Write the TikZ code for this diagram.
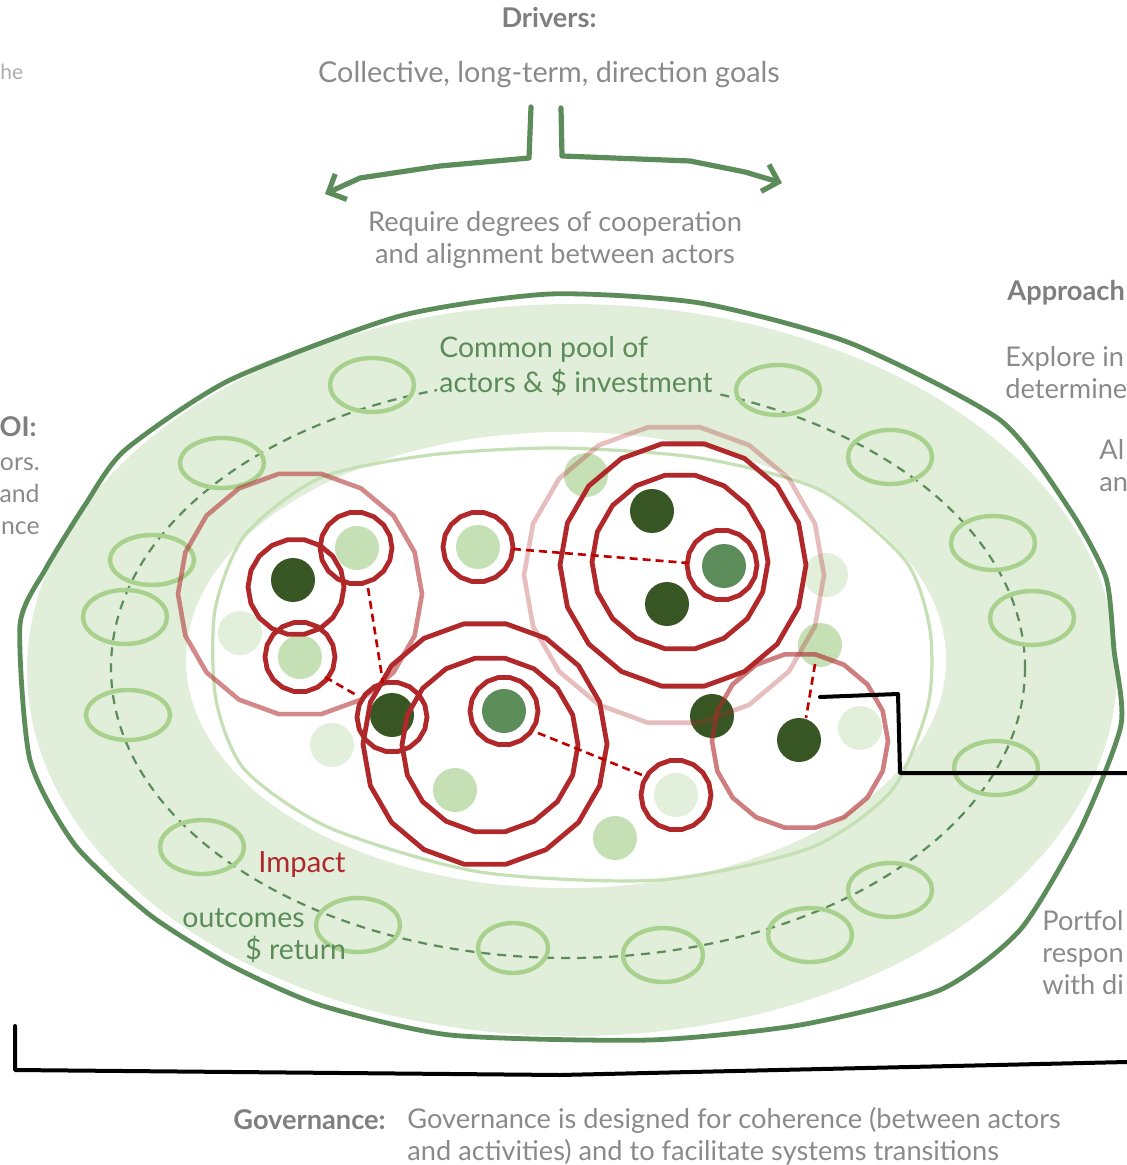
\documentclass[tikz,border=0pt]{standalone}
\usepackage{fontspec}
\setmainfont{Lato}
\usetikzlibrary{arrows.meta}
\definecolor{ringfill}{HTML}{E1EED9}
\definecolor{outlinegreen}{HTML}{5B8C5A}
\definecolor{poolring}{HTML}{A9D18E}
\definecolor{innerline}{HTML}{C5E0B4}
\definecolor{dotdark}{HTML}{375623}
\definecolor{dotmid}{HTML}{5B8C5A}
\definecolor{dotlight}{HTML}{C5E0B4}
\definecolor{dotpale}{HTML}{E2EFDA}
\definecolor{impactred}{HTML}{B0282A}
\definecolor{linkred}{HTML}{C00000}
\definecolor{textgray}{HTML}{8A8A8A}
\definecolor{labelgray}{HTML}{7F7F7F}
\tikzset{
  poolellipse/.style={draw=poolring, line width=2.2pt},
  dotnode/.style={circle, minimum size=22pt, inner sep=0pt, draw=none},
  redring/.style={draw=impactred, line width=2.4pt, line join=round},
  fadering/.style={draw=impactred, line width=2.3pt, line join=round, draw opacity=#1},
  link/.style={draw=linkred, line width=1.3pt, dash pattern=on 4pt off 2.5pt},
  bodytext/.style={text=textgray, font=\fontsize{13.6}{16}\selectfont, inner sep=0pt},
  boldtext/.style={text=labelgray, font=\fontsize{13.6}{16}\selectfont\bfseries, inner sep=0pt},
  greentext/.style={text=outlinegreen, font=\fontsize{14.2}{17.5}\selectfont, inner sep=0pt, align=left},
  bracket/.style={draw=black, line width=2pt, line join=round, line cap=round},
  driverarrow/.style={draw=outlinegreen, line width=2.6pt, line cap=round, line join=round,
    -{Straight Barb[length=7pt, width=14pt, line width=2.6pt]}}
}
% sketched polygonal ring: style, centre x, centre y, radius
\newcommand{\polyring}[4]{\draw[#1] plot[samples=19, domain=0:360] ({#2+#4*cos(\x)},{#3+#4*sin(\x)}) -- cycle;}
\begin{document}
\begin{tikzpicture}[x=0.5pt, y=-0.5pt]
\useasboundingbox (0,0) rectangle (1127,1165);
\clip (0,0) rectangle (1127,1165);

% pool band and inner clearing
\fill[ringfill] (572,670) ellipse [x radius=545, y radius=366];
\fill[white] (566,660) ellipse [x radius=380, y radius=228];

% outline of the initiative space
\draw[innerline, line width=1.6pt, line join=round] plot[smooth cycle, tension=0.45] coordinates {
  (215,610) (245,535) (320,478) (430,455) (560,448) (700,458) (820,490) (905,560)
  (930,630) (928,705) (892,790) (810,848) (660,880) (480,872) (330,828) (245,770) (216,700)};

% circulation of actors
\draw[outlinegreen, line width=1.1pt, dash pattern=on 4.5pt off 3.5pt] (568,668) ellipse [x radius=457, y radius=290];

% actors in the common pool
\foreach \px/\py/\rx/\ry in {372/385/42/27, 222/463/42/25, 152/560/42/25, 125/617/42/27,
  128/715/42/25, 202/847/42/27, 358/925/42/27, 513/948/35/25, 663/955/40/27,
  810/935/42/27, 890/890/42/27, 996/768/42/27, 1032/618/42/27, 993/543/42/27,
  890/457/42/27, 778/390/42/25}
  \draw[poolellipse] (\px,\py) ellipse [x radius=\rx, y radius=\ry];

% outer boundary
\draw[outlinegreen, line width=2.4pt, line join=round] plot[smooth cycle, tension=0.4] coordinates {
  (20,625) (45,570) (85,505) (125,450) (230,380) (400,316) (550,294) (700,303) (850,343)
  (1000,420) (1070,510) (1106,578) (1114,650) (1121,725) (1080,830) (1020,930) (940,990)
  (800,1025) (650,1040) (450,1035) (320,1005) (230,965) (150,915) (75,845) (30,760)};

% initiatives (dots)
\node[dotnode, fill=dotdark] (d1) at (293,580) {};
\node[dotnode, fill=dotdark] (d2) at (652,511) {};
\node[dotnode, fill=dotdark] (d3) at (667,604) {};
\node[dotnode, fill=dotdark] (d4) at (392,715) {};
\node[dotnode, fill=dotdark] (d5) at (712,716) {};
\node[dotnode, fill=dotdark] (d6) at (799,740) {};
\node[dotnode, fill=dotmid] (m1) at (724,566) {};
\node[dotnode, fill=dotmid] (m2) at (504,711) {};
\node[dotnode, fill=dotlight] (l1) at (357,548) {};
\node[dotnode, fill=dotlight] (l2) at (300,657) {};
\node[dotnode, fill=dotlight] (l3) at (478,547) {};
\node[dotnode, fill=dotlight] (l4) at (586,475) {};
\node[dotnode, fill=dotlight] (l5) at (455,790) {};
\node[dotnode, fill=dotlight] (l6) at (615,838) {};
\node[dotnode, fill=dotlight] (l7) at (820,645) {};
\node[dotnode, fill=dotpale] (p1) at (240,633) {};
\node[dotnode, fill=dotpale] (p2) at (332,745) {};
\node[dotnode, fill=dotpale] (p3) at (676,795) {};
\node[dotnode, fill=dotpale] (p4) at (826,575) {};
\node[dotnode, fill=dotpale] (p5) at (860,728) {};

% impact rings
\polyring{redring}{296}{587}{48}
\polyring{redring}{356}{548}{36}
\polyring{redring}{300}{657}{35}
\polyring{redring}{478}{547}{35}
\polyring{redring}{392}{717}{35}
\polyring{redring}{504}{711}{34}
\polyring{redring}{722}{565}{35}
\polyring{redring}{676}{795}{35}
\polyring{redring}{490}{745}{88}
\polyring{redring}{485}{744}{122}
\polyring{redring}{680}{562}{88}
\polyring{redring}{683}{565}{123}
\polyring{fadering=0.3}{674}{575}{150}
\polyring{fadering=0.55}{300}{594}{122}
\polyring{fadering=0.6}{800}{741}{88}

% links between initiatives (ends sit on the impact rings)
\coordinate (l1out) at (368,588);  \coordinate (d4inA) at (383,683);
\coordinate (l2out) at (325,677);  \coordinate (d4inB) at (358,696);
\coordinate (l3out) at (513,549);  \coordinate (m1in) at (688,563);
\coordinate (m2out) at (538,733);  \coordinate (p3in) at (642,775);
\coordinate (l7out) at (815,664);  \coordinate (d6in) at (806,718);
\draw[link] (l1out) -- (d4inA);
\draw[link] (l2out) -- (d4inB);
\draw[link] (l3out) -- (m1in);
\draw[link] (m2out) -- (p3in);
\draw[link] (l7out) -- (d6in);

% drivers
\node[boldtext] (drivers) at (549,18) {Drivers:};
\node[bodytext, font=\fontsize{14.4}{17}\selectfont] (goals) at (549,75) {Collective, long-term, direction goals};
\coordinate (splitL) at (531,107);
\coordinate (splitR) at (561,108);
\coordinate (tipL) at (325,194);
\coordinate (tipR) at (782,183);
\draw[driverarrow] (splitL) -- (529,158) -- (440,166) -- (360,178) -- (tipL);
\draw[driverarrow] (splitR) -- (562,156) -- (690,161) -- (745,172) -- (tipR);
\node[bodytext, align=center] (coop) at (555,240) {Require degrees of cooperation\\and alignment between actors};

% side notes, running on beyond the page edges
\node[text=textgray!70, font=\fontsize{10.5}{12}\selectfont, anchor=west, inner sep=0pt] (topnote) at (0,72) {he};
\node[boldtext, anchor=west] (approach) at (1007,293) {Approach};
\node[bodytext, anchor=west, align=left] (explore) at (1005,373) {Explore in\\determine};
\node[bodytext, anchor=west, align=left] (allign) at (1099,466) {Al\\an};
\node[bodytext, anchor=west, align=left] (portfolio) at (1042,953) {Portfol\\respon\\with di};
\node[boldtext, anchor=east] (roi) at (37,427) {OI:};
\node[bodytext, font=\fontsize{12.4}{16}\selectfont, anchor=east, align=right] (roitext) at (40,496) {ors.\\and\\nce};

% pool labels
\node[greentext, anchor=west, fill=ringfill, inner sep=1pt] (pool) at (437,366) {Common pool of\\actors \& \$ investment};
\node[text=impactred, font=\fontsize{14.6}{17}\selectfont, inner sep=0pt] (impact) at (302,865) {Impact};
\node[greentext, anchor=west] (outcomes) at (182,918) {outcomes};
\node[greentext, anchor=west] (return) at (245,950) {\$ return};

% governance bracket and portfolio connector
\coordinate (brTop) at (15,1026);
\coordinate (brEnd) at (1127,1062);
\draw[bracket] (brTop) -- (15,1070) -- (560,1075) -- (brEnd);
\coordinate (conStart) at (820,697);
\coordinate (conEnd) at (1127,773);
\draw[bracket] (conStart) -- (898,694) -- (900,773) -- (conEnd);

\node[boldtext, anchor=west] (govlabel) at (233,1120) {Governance:};
\node[bodytext, anchor=north west, align=left] (govtext) at (407,1107) {Governance is designed for coherence (between actors\\and activities) and to facilitate systems transitions};
\end{tikzpicture}
\end{document}
